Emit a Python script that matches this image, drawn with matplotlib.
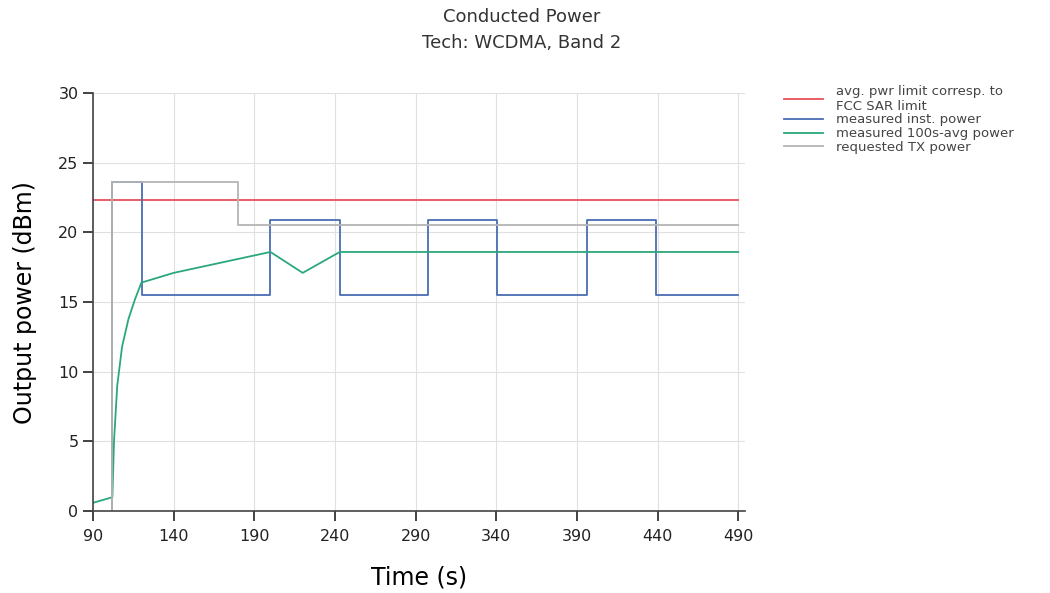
import numpy as np
import matplotlib.pyplot as plt

# time axis limits / ticks
xticks = [90, 140, 190, 240, 290, 340, 390, 440, 490]
yticks = [0, 5, 10, 15, 20, 25, 30]

# avg. pwr limit (FCC SAR)
limit_t = [90, 490]
limit_p = [22.3, 22.3]

# requested TX power (starts below the visible range)
req_t = [90, 102, 102, 180, 180, 490]
req_p = [-10, -10, 23.6, 23.6, 20.5, 20.5]

# measured instantaneous power
inst_t = [90, 102, 102, 120.5, 120.5, 200, 200, 243, 243, 298, 298, 340.5, 340.5, 396, 396, 439, 439, 490]
inst_p = [-10, -10, 23.6, 23.6, 15.5, 15.5, 20.9, 20.9, 15.5, 15.5, 20.9, 20.9, 15.5, 15.5, 20.9, 20.9, 15.5, 15.5]

# measured 100s-avg power
avg_t = [90, 96, 102, 103, 105, 108, 112, 116, 120, 140, 160, 180, 200, 220, 243, 490]
avg_p = [0.6, 0.8, 1.0, 5.0, 9.0, 11.8, 13.8, 15.2, 16.4, 17.1, 17.6, 18.1, 18.6, 17.1, 18.6, 18.6]

fig = plt.figure(figsize=(10.5, 5.93), dpi=100)
ax = fig.add_axes([0.0886, 0.138, 0.621, 0.705])

ax.plot(limit_t, limit_p, color='#e8505b', lw=1.3, label='avg. pwr limit corresp. to\nFCC SAR limit')
ax.plot(inst_t, inst_p, color='#4a6cb3', lw=1.3, label='measured inst. power')
ax.plot(avg_t, avg_p, color='#2aa879', lw=1.3, label='measured 100s-avg power')
ax.plot(req_t, req_p, color='#b4b4b4', lw=1.3, label='requested TX power')

ax.set_xlim(90, 494.3)
ax.set_ylim(0, 30)
ax.set_xticks(xticks)
ax.set_yticks(yticks)
ax.grid(True, color='#e0e0e0', lw=0.8)
ax.set_axisbelow(True)
for s in ['top', 'right']:
    ax.spines[s].set_visible(False)
for s in ['left', 'bottom']:
    ax.spines[s].set_color('#444444')
    ax.spines[s].set_linewidth(1.2)
ax.tick_params(labelsize=11.5, colors='#222222', length=7, width=1.2)
ax.tick_params(axis='x', pad=6)
ax.set_xlabel('Time (s)', fontsize=17, labelpad=15)
ax.set_ylabel('Output power (dBm)', fontsize=17, labelpad=15)

fig.text(0.497, 0.971, 'Conducted Power', ha='center', va='center', fontsize=13, color='#333333')
fig.text(0.497, 0.927, 'Tech: WCDMA, Band 2', ha='center', va='center', fontsize=13, color='#333333')

leg = fig.legend(loc='upper left', bbox_to_anchor=(0.735, 0.877), frameon=False,
                 fontsize=9.5, handlelength=3.0, handletextpad=1.0, labelspacing=0.05)
for t in leg.get_texts():
    t.set_color('#444444')

fig.savefig('out.png', dpi=100)
